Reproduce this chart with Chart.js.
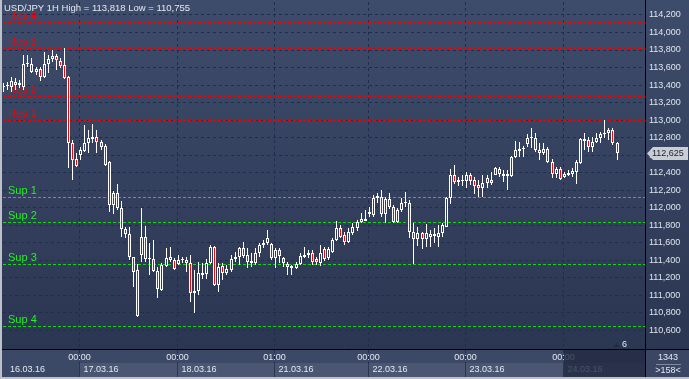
<!DOCTYPE html>
<html><head><meta charset="utf-8">
<script src="https://cdn.jsdelivr.net/npm/chart.js@4.4.1/dist/chart.umd.min.js"></script>
<style>html,body{margin:0;padding:0;background:#34415e;overflow:hidden}#wrap{width:689px;height:379px;position:relative}</style>
</head><body><div id="wrap"><canvas id="c" width="689" height="379"></canvas></div>
<script>
const symbolName = 'USD/JPY';
const timeframe = '1H';
const opens = [113.38,113.39,113.378,113.435,113.401,113.378,113.640,113.640,113.549,113.583,113.492,113.640,113.697,113.732,113.675,113.629,113.492,112.739,112.556,112.602,
112.647,112.739,112.784,112.807,112.750,112.704,112.522,112.031,112.168,111.997,111.757,111.700,111.437,111.289,111.460,111.665,111.414,111.414,111.277,111.060,
111.334,111.403,111.403,111.357,111.403,111.403,111.368,111.026,111.049,111.232,111.243,111.368,111.551,111.117,111.334,111.255,111.289,111.414,111.437,111.540,
111.460,111.368,111.368,111.483,111.574,111.597,111.585,111.425,111.517,111.425,111.357,111.334,111.312,111.357,111.437,111.460,111.483,111.414,111.368,111.528,
111.425,111.494,111.631,111.768,111.688,111.608,111.711,111.768,111.837,111.848,111.928,111.917,112.111,112.122,111.928,112.099,112.008,111.837,111.974,112.065,
112.054,111.723,111.643,111.711,111.643,111.665,111.700,111.665,111.711,111.780,112.111,112.373,112.293,112.305,112.305,112.373,112.316,112.259,112.225,112.282,
112.282,112.373,112.442,112.362,112.385,112.362,112.579,112.647,112.670,112.727,112.796,112.796,112.659,112.625,112.670,112.522,112.385,112.442,112.350,112.373,
112.385,112.408,112.510,112.761,112.773,112.693,112.750,112.796,112.841,112.853,112.887,112.739];
const highs = [113.42,113.435,113.492,113.481,113.458,113.743,113.743,113.709,113.606,113.606,113.777,113.743,113.800,113.755,113.709,113.818,113.50,112.773,112.625,112.693,
112.944,112.887,112.955,112.887,112.773,112.727,112.53,112.191,112.270,112.076,111.780,111.780,111.44,111.357,111.997,111.791,111.597,111.631,111.323,111.368,
111.54,111.551,111.425,111.460,111.437,111.437,111.460,111.289,111.380,111.368,111.414,111.574,111.563,111.368,111.368,111.346,111.460,111.494,111.551,111.608,
111.540,111.483,111.540,111.597,111.631,111.745,111.597,111.540,111.540,111.437,111.380,111.346,111.380,111.483,111.551,111.517,111.517,111.437,111.574,111.551,
111.551,111.654,111.848,111.802,111.723,111.768,111.825,111.860,111.940,111.974,112.008,112.145,112.168,112.202,112.122,112.168,112.031,111.997,112.111,112.179,
112.088,111.825,111.780,111.723,111.814,111.745,111.768,111.802,111.825,112.122,112.442,112.487,112.350,112.373,112.408,112.396,112.350,112.316,112.373,112.373,
112.408,112.464,112.464,112.430,112.430,112.585,112.761,112.750,112.704,112.841,112.910,112.853,112.739,112.739,112.693,112.556,112.464,112.464,112.408,112.430,
112.453,112.545,112.796,112.853,112.807,112.807,112.853,112.864,113.001,112.910,112.910,112.750];
const lows = [113.32,113.344,113.321,113.344,113.366,113.344,113.606,113.538,113.515,113.446,113.48,113.538,113.663,113.572,113.595,113.47,112.453,112.316,112.464,112.545,
112.636,112.625,112.739,112.625,112.659,112.476,111.951,111.928,111.974,111.665,111.654,111.403,111.095,110.755,111.380,111.380,111.232,111.266,110.969,111.049,
111.323,111.380,111.289,111.346,111.368,111.266,110.923,110.798,111.003,111.186,111.186,111.357,111.106,111.038,111.175,111.232,111.266,111.380,111.346,111.425,
111.312,111.323,111.346,111.437,111.540,111.574,111.403,111.312,111.368,111.323,111.232,111.232,111.300,111.346,111.425,111.425,111.346,111.346,111.334,111.391,
111.403,111.483,111.620,111.654,111.574,111.597,111.688,111.734,111.825,111.845,111.894,111.894,112.054,111.894,111.825,111.985,111.825,111.825,111.951,112.008,
111.654,111.357,111.563,111.528,111.551,111.551,111.597,111.551,111.665,111.775,112.042,112.270,112.248,112.248,112.225,112.259,112.156,112.122,112.122,112.225,
112.259,112.37,112.350,112.293,112.202,112.350,112.568,112.579,112.579,112.693,112.682,112.636,112.545,112.602,112.510,112.339,112.339,112.316,112.339,112.362,
112.350,112.270,112.499,112.659,112.636,112.636,112.739,112.739,112.796,112.773,112.716,112.545];
const closes = [113.38,113.39,113.446,113.401,113.423,113.640,113.645,113.549,113.583,113.492,113.640,113.697,113.732,113.686,113.618,113.481,112.739,112.545,112.476,112.659,
112.739,112.796,112.807,112.750,112.693,112.487,112.031,112.168,111.997,111.757,111.700,111.437,111.266,110.760,111.665,111.414,111.420,111.277,111.072,111.346,
111.425,111.437,111.300,111.403,111.408,111.368,111.026,111.049,111.255,111.255,111.368,111.551,111.117,111.323,111.255,111.300,111.414,111.437,111.540,111.448,
111.380,111.391,111.483,111.574,111.597,111.654,111.425,111.517,111.448,111.368,111.323,111.312,111.357,111.448,111.460,111.483,111.380,111.380,111.483,111.414,
111.528,111.631,111.768,111.665,111.608,111.723,111.780,111.837,111.871,111.871,111.951,112.111,112.134,111.928,112.099,112.008,111.837,111.974,112.054,112.054,
111.723,111.643,111.711,111.643,111.711,111.700,111.677,111.711,111.802,112.111,112.373,112.293,112.316,112.316,112.373,112.305,112.248,112.225,112.282,112.339,
112.316,112.453,112.385,112.385,112.362,112.579,112.659,112.670,112.682,112.796,112.807,112.659,112.625,112.670,112.522,112.385,112.442,112.327,112.385,112.396,
112.419,112.522,112.784,112.784,112.693,112.750,112.796,112.841,112.853,112.887,112.739,112.625];
const dayStartBars = [19, 43, 67, 90, 114, 138];
const timeLabels = ['00:00', '00:00', '01:00', '00:00', '00:00', '00:00'];
const dateLabels = ['17.03.16', '18.03.16', '21.03.16', '22.03.16', '23.03.16', '24.03.16'];
const firstDateLabel = '16.03.16';
const yTicks = [110.6,110.8,111.0,111.2,111.4,111.6,111.8,112.0,112.2,112.4,112.6,112.8,113.0,113.2,113.4,113.6,113.8,114.0,114.2];
const resLevels = [113.0, 113.275, 113.82, 114.125];
const resNames = ['Res 1', 'Res 2', 'Res 3', 'Res 4'];
const supLevels = [112.125, 111.835, 111.355, 110.65];
const supNames = ['Sup 1', 'Sup 2', 'Sup 3', 'Sup 4'];
const visibleBars = 158;
const totalBars = 1343;
const shiftBars = 6;

const FONT = '"Liberation Sans", Arial, sans-serif';
const fmt = v => v.toFixed(3).replace('.', ',');
const idx = closes.map((_, i) => i);

const decor = {
  id: 'decor',
  beforeDraw(chart) {
    const {ctx, chartArea: a, scales: {x}} = chart;
    const W = chart.width, H = chart.height;
    ctx.save();
    const g = ctx.createLinearGradient(0, 0, 0, 350);
    g.addColorStop(0, '#3e4c6b'); g.addColorStop(1, '#2b3651');
    ctx.fillStyle = g; ctx.fillRect(0, 0, W, 350);
    ctx.fillStyle = '#3c4966'; ctx.fillRect(0, 350, W, H - 350);
    const px = dayStartBars.map(i => Math.round(x.getPixelForValue(i)) - 0.5);
    for (let k = 0; k < px.length; k++) {
      const x0 = px[k], x1 = k + 1 < px.length ? px[k + 1] : a.right;
      ctx.fillStyle = '#4a5672'; ctx.fillRect(x0, 363, x1 - x0, 14);
    }
    ctx.strokeStyle = '#1f2d4f'; ctx.lineWidth = 1; ctx.setLineDash([3, 3]);
    px.forEach(p => { ctx.beginPath(); ctx.moveTo(p, a.top); ctx.lineTo(p, 363); ctx.stroke(); });
    ctx.setLineDash([]);
    ctx.strokeStyle = '#2a3550';
    px.forEach(p => { ctx.beginPath(); ctx.moveTo(p, 363); ctx.lineTo(p, 377); ctx.stroke(); });
    ctx.font = '9px ' + FONT; ctx.fillStyle = '#e3e8f1'; ctx.textBaseline = 'middle';
    ctx.textAlign = 'center';
    px.forEach((p, k) => ctx.fillText(timeLabels[k], p, 358));
    ctx.textAlign = 'left';
    ctx.fillText(firstDateLabel, 10, 370);
    px.forEach((p, k) => ctx.fillText(dateLabels[k], p + 4, 370));
    const last = px[px.length - 1];
    ctx.fillStyle = 'rgba(33,41,64,0.8)'; ctx.fillRect(last + 0.5, 350, a.right - last, 27);
    ctx.restore();
  },
  beforeDatasetsDraw(chart) {
    // snap candle elements to whole pixels for crisp drawing
    chart.data.datasets.forEach((ds, di) => {
      const meta = chart.getDatasetMeta(di);
      meta.data.forEach(el => {
        el.x = Math.round(el.x) + 0.5;
        let y0 = Math.round(el.y), b0 = Math.round(el.base);
        if (ds.label === 'body' && y0 === b0) b0 = y0 + 1;
        el.y = y0; el.base = b0;
        el.height = b0 - y0;
      });
    });
    const {ctx, chartArea: a, scales: {y}} = chart;
    ctx.save();
    ctx.beginPath(); ctx.rect(a.left, a.top, a.right - a.left, a.bottom - a.top); ctx.clip();
    const level = (v, name, col, tcol) => {
      const py = Math.round(y.getPixelForValue(v)) + 0.5;
      ctx.strokeStyle = col; ctx.lineWidth = 1; ctx.setLineDash([3, 2]);
      ctx.beginPath(); ctx.moveTo(a.left, py); ctx.lineTo(a.right, py); ctx.stroke();
      ctx.setLineDash([]);
      ctx.fillStyle = tcol; ctx.font = '11px ' + FONT; ctx.textAlign = 'left'; ctx.textBaseline = 'alphabetic';
      ctx.fillText(name, 8, py - 4);
    };
    resLevels.forEach((v, k) => level(v, resNames[k], '#f00000', '#ff0000'));
    supLevels.forEach((v, k) => level(v, supNames[k], '#10d810', '#22f022'));
    ctx.restore();
  },
  afterDraw(chart) {
    const {ctx, chartArea: a, scales: {y}} = chart;
    const W = chart.width, H = chart.height;
    ctx.save();
    const hi = Math.max(...highs), lo = Math.min(...lows);
    ctx.font = '9.5px ' + FONT; ctx.fillStyle = '#e2e7f0'; ctx.textAlign = 'left'; ctx.textBaseline = 'middle';
    ctx.fillText(symbolName + ' ' + timeframe + ' High = ' + fmt(hi) + ' Low = ' + fmt(lo), 4, 8);
    const lastClose = closes[closes.length - 1];
    const py = Math.round(y.getPixelForValue(lastClose)) + 0.5;
    ctx.fillStyle = '#c9cdd4';
    ctx.beginPath(); ctx.moveTo(647, py); ctx.lineTo(653, py - 6.5); ctx.lineTo(688, py - 6.5);
    ctx.lineTo(688, py + 6.5); ctx.lineTo(653, py + 6.5); ctx.closePath(); ctx.fill();
    ctx.fillStyle = '#1b2130'; ctx.font = '9px ' + FONT; ctx.textBaseline = 'middle';
    ctx.fillText(fmt(lastClose), 652, py + 0.5);
    ctx.strokeStyle = '#000'; ctx.lineWidth = 1;
    ctx.beginPath(); ctx.moveTo(a.right + 0.5, 0); ctx.lineTo(a.right + 0.5, 377); ctx.stroke();
    ctx.beginPath(); ctx.moveTo(0, a.bottom + 0.5); ctx.lineTo(W, a.bottom + 0.5); ctx.stroke();
    ctx.fillStyle = '#3a4663'; ctx.fillRect(a.right + 1, a.bottom + 1, W - a.right - 1, 27);
    ctx.fillStyle = '#e3e8f1'; ctx.textAlign = 'center'; ctx.font = '9px ' + FONT;
    ctx.fillText(String(totalBars), 668, 357.5);
    ctx.fillText('>' + visibleBars + '<', 668, 371);
    ctx.strokeStyle = '#7f889c';
    ctx.beginPath(); ctx.moveTo(656, 364.5); ctx.lineTo(681, 364.5); ctx.stroke();
    ctx.fillStyle = '#232b40';
    ctx.beginPath(); ctx.moveTo(613, 347); ctx.lineTo(620, 347); ctx.lineTo(616.5, 343); ctx.closePath(); ctx.fill();
    ctx.fillStyle = '#e3e8f1'; ctx.textAlign = 'left';
    ctx.fillText(String(shiftBars), 622, 345);
    ctx.fillStyle = '#bcc1c9';
    ctx.fillRect(0, 0, 2, H); ctx.fillRect(0, 377, W, 2);
    ctx.restore();
  }
};

new Chart(document.getElementById('c'), {
  type: 'bar',
  data: {
    datasets: [
      {
        label: 'body', order: 0,
        data: idx.map(i => {
          let a = opens[i], b = closes[i];
          if (Math.abs(a - b) < 0.012) { const m = (a + b) / 2; a = m - 0.006; b = m + 0.006; }
          return {x: i, y: [a, b]};
        }),
        backgroundColor: idx.map(i => closes[i] < opens[i] ? '#ff0000' : 'rgba(0,0,0,0)'),
        borderColor: '#ffffff', borderWidth: 1, borderSkipped: false, barThickness: 3, inflateAmount: 0
      },
      {
        label: 'upper', order: 1,
        data: idx.map(i => ({x: i, y: [Math.max(opens[i], closes[i]), highs[i]]})),
        backgroundColor: '#ffffff', borderWidth: 0, barThickness: 1, inflateAmount: 0
      },
      {
        label: 'lower', order: 1,
        data: idx.map(i => ({x: i, y: [lows[i], Math.min(opens[i], closes[i])]})),
        backgroundColor: '#ffffff', borderWidth: 0, barThickness: 1, inflateAmount: 0
      }
    ]
  },
  options: {
    responsive: false, animation: false, devicePixelRatio: 1,
    layout: {padding: {left: 3, top: 2, right: 0, bottom: 30}},
    plugins: {legend: {display: false}, tooltip: {enabled: false}},
    datasets: {bar: {grouped: false}},
    scales: {
      x: {type: 'linear', min: 0, max: visibleBars, display: false, offset: false},
      y: {
        position: 'right', min: 110.387, max: 114.348,
        afterBuildTicks: s => { s.ticks = yTicks.map(v => ({value: v})); },
        afterFit: s => { s.width = 44; s.paddingTop = 0; s.paddingBottom = 0; },
        ticks: {autoSkip: false, padding: 4, color: '#dfe5ef', font: {family: FONT, size: 9}, callback: v => fmt(v)},
        grid: {color: '#1f2d4f', lineWidth: 1, drawTicks: false},
        border: {display: false, dash: [3, 3]}
      }
    }
  },
  plugins: [decor]
});
</script>
</body></html>
